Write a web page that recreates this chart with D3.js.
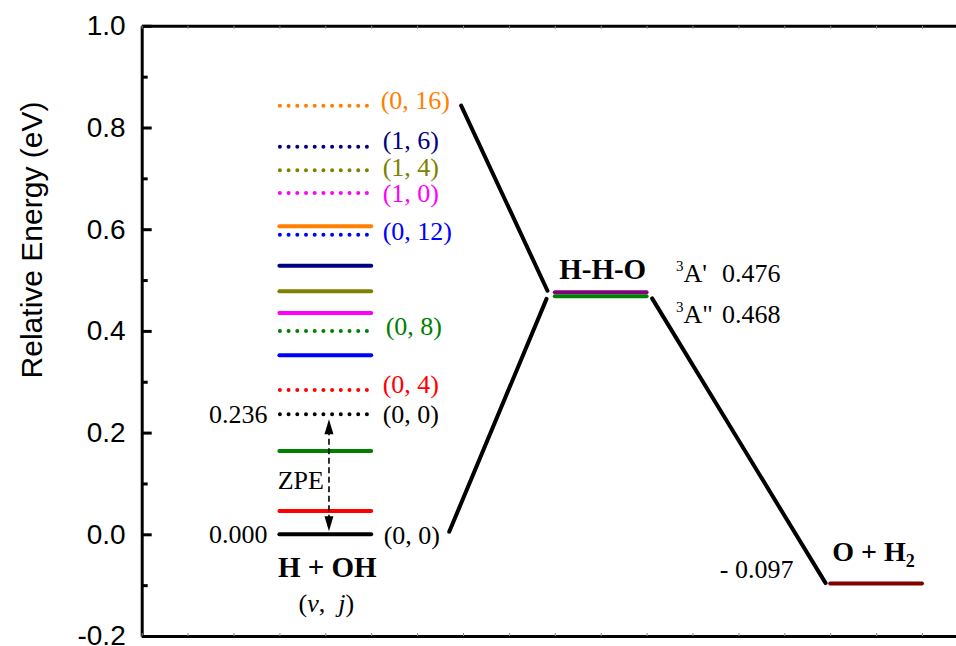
<!DOCTYPE html>
<html>
<head>
<meta charset="utf-8">
<script src="https://cdn.jsdelivr.net/npm/d3@7"></script>
<style>
  body { margin: 0; background: #fff; }
  svg { display: block; }
</style>
</head>
<body>
<svg id="chart" width="956" height="646"></svg>
<script>
// H + OH rovibrational levels (v, j): without ZPE (solid) and with ZPE (dotted)
var stateLabels   = ["(0, 0)", "(0, 4)", "(0, 8)", "(0, 12)", "(1, 0)", "(1, 4)", "(1, 6)", "(0, 16)"]
var levelsNoZPE   = [0.000, 0.046, 0.164, 0.352, 0.435, 0.478, 0.528, 0.606]
var levelsWithZPE = [0.236, 0.284, 0.400, 0.589, 0.671, 0.716, 0.762, 0.843]

// transition state and product
var tsStates   = ["A'", "A\""]
var tsEnergies = [0.476, 0.468]
var productEnergy = -0.097

// connecting lines, [reaction coordinate, energy]
var lowerPath = [[6.7, 0.005], [8.82, 0.463]]
var upperPath = [[6.96, 0.843], [8.84, 0.479]]
var rightPath = [[11.12, 0.464], [14.9, -0.096]]

var yMajor = [-0.2, 0.0, 0.2, 0.4, 0.6, 0.8, 1.0]
var yMinor = [-0.1, 0.1, 0.3, 0.5, 0.7, 0.9]
var xTicks = d3.range(0, 21)

var stateColors = ["#000000", "#ff0000", "#008000", "#0000ff", "#ff00ff", "#808000", "#000080", "#ff8000"]
var tsColors = ["#800080", "#008000"]

var serif = "'Liberation Serif', 'Times New Roman', serif"
var sans = "'Liberation Sans', Arial, sans-serif"

var svg = d3.select("#chart")

var xScale = d3.scaleLinear().domain([0, 20]).range([141.7, 141.7 + 20 * 45.9])
var yScale = d3.scaleLinear().domain([-0.2, 1.0]).range([636, 25.8])

// axes: frame on left, top, bottom
var yAxis = svg.append("g")
    .attr("transform", "translate(" + xScale(0) + ",0)")
    .call(d3.axisLeft(yScale).tickValues(yMajor).tickSize(-10).tickSizeOuter(0)
        .tickPadding(16).tickFormat(d => d.toFixed(1)))
yAxis.selectAll("text").style("font-family", sans).style("font-size", "28px").attr("fill", "#000")
yAxis.selectAll("line").attr("stroke-width", 3)
yAxis.select(".domain").attr("stroke-width", 3)

svg.append("g")
    .attr("transform", "translate(" + xScale(0) + ",0)")
    .call(d3.axisLeft(yScale).tickValues(yMinor).tickSize(-6).tickFormat(""))
    .call(g => g.select(".domain").remove())
    .selectAll("line").attr("stroke-width", 3)

var topAxis = svg.append("g")
    .attr("transform", "translate(0," + yScale(1.0) + ")")
    .call(d3.axisTop(xScale).tickValues(xTicks).tickSize(-3).tickSizeOuter(0).tickFormat(""))
topAxis.select(".domain").attr("stroke-width", 3)
topAxis.selectAll("line").attr("stroke", "#888").attr("stroke-width", 1)

var botAxis = svg.append("g")
    .attr("transform", "translate(0," + yScale(-0.2) + ")")
    .call(d3.axisBottom(xScale).tickValues(xTicks).tickSize(-3).tickSizeOuter(0).tickFormat(""))
botAxis.select(".domain").attr("stroke-width", 3)
botAxis.selectAll("line").attr("stroke", "#888").attr("stroke-width", 1)

svg.append("text")
    .attr("transform", "translate(42,240) rotate(-90)")
    .attr("text-anchor", "middle")
    .style("font-family", sans)
    .style("font-size", "30px")
    .text("Relative Energy (eV)")

// connecting lines
var lineGen = d3.line().x(d => xScale(d[0])).y(d => yScale(d[1]))
svg.selectAll(".path")
    .data([lowerPath, upperPath, rightPath])
    .join("path")
    .attr("d", d => lineGen(d))
    .attr("fill", "none")
    .attr("stroke", "#000")
    .attr("stroke-width", 4)
    .attr("stroke-linecap", "round")

// reactant levels
svg.selectAll(".solid")
    .data(levelsNoZPE)
    .join("line")
    .attr("x1", xScale(3)).attr("x2", xScale(5))
    .attr("y1", d => yScale(d)).attr("y2", d => yScale(d))
    .attr("stroke", (d, i) => stateColors[i])
    .attr("stroke-width", 4)
    .attr("stroke-linecap", "round")

svg.selectAll(".dotted")
    .data(levelsWithZPE)
    .join("line")
    .attr("x1", xScale(3) + 0.5).attr("x2", xScale(5))
    .attr("y1", d => yScale(d)).attr("y2", d => yScale(d))
    .attr("stroke", (d, i) => stateColors[i])
    .attr("stroke-width", 4)
    .attr("stroke-linecap", "round")
    .attr("stroke-dasharray", "0 8.7")

var nudge = { "(0, 16)": -5, "(1, 6)": -6, "(1, 4)": -3, "(0, 12)": -3, "(0, 8)": -4, "(0, 4)": -5 }
var shiftX = { "(0, 8)": 3, "(0, 16)": -2 }
svg.selectAll(".vjlabel")
    .data(levelsWithZPE)
    .join("text")
    .attr("x", (d, i) => xScale(5) + 11.5 + (shiftX[stateLabels[i]] || 0))
    .attr("y", (d, i) => yScale(d) + (nudge[stateLabels[i]] || 0))
    .attr("dy", "0.33em")
    .attr("fill", (d, i) => stateColors[i])
    .style("font-family", serif)
    .style("font-size", "26px")
    .text((d, i) => stateLabels[i])

svg.append("text")
    .attr("x", xScale(5) + 12.5)
    .attr("y", yScale(levelsNoZPE[0]) + 1)
    .attr("dy", "0.33em")
    .style("font-family", serif)
    .style("font-size", "26px")
    .text(stateLabels[0])

// energy values on the left
svg.selectAll(".evalue")
    .data([levelsNoZPE[0], levelsWithZPE[0]])
    .join("text")
    .attr("x", xScale(3) - 12)
    .attr("y", d => yScale(d))
    .attr("dy", "0.33em")
    .attr("text-anchor", "end")
    .style("font-family", serif)
    .style("font-size", "26px")
    .text(d => d.toFixed(3))

// ZPE arrow (dashed, heads at both ends)
var arrowX = xScale(4.08)
var yTop = yScale(levelsWithZPE[0]) + 5
var yBot = yScale(levelsNoZPE[0]) - 3
svg.append("line")
    .attr("x1", arrowX).attr("x2", arrowX)
    .attr("y1", yTop + 10).attr("y2", yBot - 10)
    .attr("stroke", "#000")
    .attr("stroke-width", 1.6)
    .attr("stroke-dasharray", "6 3.5")

svg.append("path")
    .attr("d", "M" + arrowX + "," + yTop + "l-4.5,15l9,0z")
    .attr("fill", "#000")
svg.append("path")
    .attr("d", "M" + arrowX + "," + yBot + "l-4.5,-15l9,0z")
    .attr("fill", "#000")

svg.append("text")
    .attr("x", arrowX - 5)
    .attr("y", yScale(0.09))
    .attr("text-anchor", "end")
    .style("font-family", serif)
    .style("font-size", "26px")
    .text("ZPE")

svg.append("text")
    .attr("x", xScale(4) + 2)
    .attr("y", yScale(levelsNoZPE[0]) + 43)
    .attr("text-anchor", "middle")
    .style("font-family", serif)
    .style("font-size", "29px")
    .style("font-weight", "bold")
    .text("H + OH")

var vj = svg.append("text")
    .attr("x", xScale(4) + 1)
    .attr("y", yScale(levelsNoZPE[0]) + 78)
    .attr("text-anchor", "middle")
    .style("font-family", serif)
    .style("font-size", "26px")
    .style("white-space", "pre")
vj.append("tspan").text("(")
vj.append("tspan").style("font-style", "italic").text("v")
vj.append("tspan").text(",  ")
vj.append("tspan").style("font-style", "italic").text("j")
vj.append("tspan").text(")")

// transition state
svg.selectAll(".ts")
    .data(tsEnergies)
    .join("line")
    .attr("x1", xScale(9)).attr("x2", xScale(11))
    .attr("y1", d => yScale(d)).attr("y2", d => yScale(d))
    .attr("stroke", (d, i) => tsColors[i])
    .attr("stroke-width", 4)
    .attr("stroke-linecap", "round")

svg.append("text")
    .attr("x", xScale(10) + 2)
    .attr("y", yScale(tsEnergies[0]) - 13)
    .attr("text-anchor", "middle")
    .style("font-family", serif)
    .style("font-size", "29px")
    .style("font-weight", "bold")
    .text("H-H-O")

var tsLabelY = [yScale(tsEnergies[0]) - 10, yScale(tsEnergies[1]) + 27]
tsStates.forEach(function(s, i) {
    var t = svg.append("text")
        .attr("x", 676)
        .attr("y", tsLabelY[i])
        .style("font-family", serif)
        .style("font-size", "26px")
    t.append("tspan").style("font-size", "15px").attr("dy", -11).text("3")
    t.append("tspan").attr("dy", 11).text(s)
    t.append("tspan").attr("x", 722).text(tsEnergies[i].toFixed(3))
})

// product
svg.append("line")
    .attr("x1", xScale(15)).attr("x2", xScale(17))
    .attr("y1", yScale(productEnergy)).attr("y2", yScale(productEnergy))
    .attr("stroke", "#800000")
    .attr("stroke-width", 4)
    .attr("stroke-linecap", "round")

var prod = svg.append("text")
    .attr("x", xScale(15) + 2)
    .attr("y", yScale(productEnergy) - 23)
    .style("font-family", serif)
    .style("font-size", "28px")
    .style("font-weight", "bold")
prod.append("tspan").text("O + H")
prod.append("tspan").style("font-size", "18px").attr("dy", 6).text("2")

svg.append("text")
    .attr("x", xScale(14.2))
    .attr("y", yScale(productEnergy) - 6)
    .attr("text-anchor", "end")
    .style("font-family", serif)
    .style("font-size", "26px")
    .text("- " + Math.abs(productEnergy).toFixed(3))
</script>
</body>
</html>
